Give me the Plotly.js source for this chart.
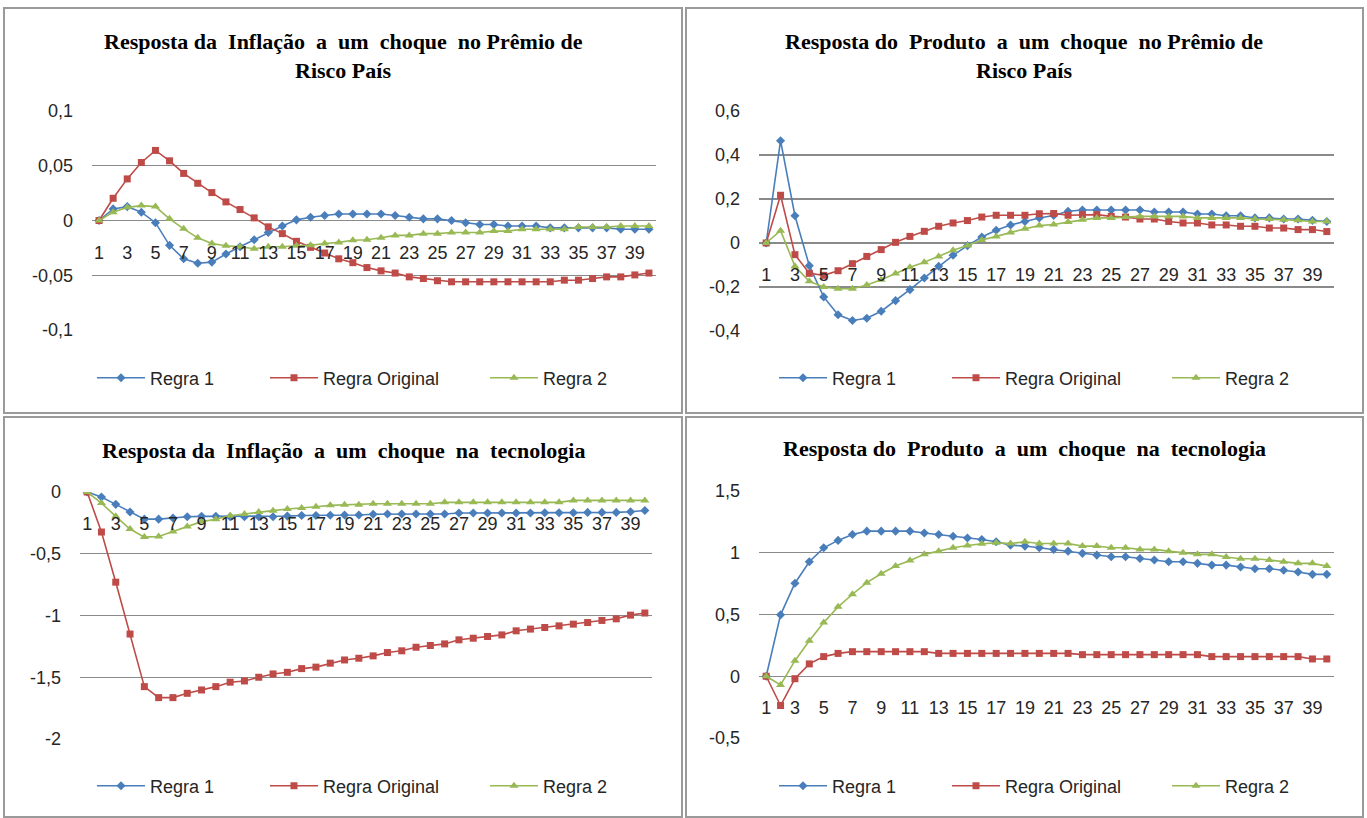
<!DOCTYPE html>
<html>
<head>
<meta charset="utf-8">
<script src="https://cdn.plot.ly/plotly-3.0.1.min.js"></script>
<style>html,body{margin:0;padding:0;background:#fff;overflow:hidden;}#chart{width:1367px;height:818px;}</style>
</head>
<body>
<div id="chart"></div>
<script>
// ---------- DATA ----------
const periods = [1,2,3,4,5,6,7,8,9,10,11,12,13,14,15,16,17,18,19,20,21,22,23,24,25,26,27,28,29,30,31,32,33,34,35,36,37,38,39,40];
const xTickVals = [1,3,5,7,9,11,13,15,17,19,21,23,25,27,29,31,33,35,37,39];
const xTickText = ["1","3","5","7","9","11","13","15","17","19","21","23","25","27","29","31","33","35","37","39"];
const seriesNames = ["Regra 1", "Regra Original", "Regra 2"];

const titles = [
  "Resposta da  Inflação  a  um  choque  no Prêmio de<br>Risco País",
  "Resposta do  Produto  a  um  choque  no Prêmio de<br>Risco País",
  "Resposta da  Inflação  a  um  choque  na  tecnologia",
  "Resposta do  Produto  a  um  choque  na  tecnologia"
];

// Panel 1: Inflação / choque prêmio de risco
const infRisk_regra1 = [0,0.0106,0.0127,0.0076,-0.002,-0.0227,-0.035,-0.039,-0.038,-0.0306,-0.024,-0.0176,-0.011,-0.005,0.0006,0.003,0.0045,0.006,0.006,0.006,0.006,0.0045,0.003,0.0015,0.0015,0,-0.002,-0.0036,-0.0036,-0.005,-0.005,-0.005,-0.0067,-0.0067,-0.0067,-0.0067,-0.0067,-0.008,-0.008,-0.008];
const infRisk_original = [0,0.0203,0.038,0.053,0.064,0.0545,0.043,0.034,0.0255,0.017,0.010,0.0024,-0.0058,-0.012,-0.019,-0.0245,-0.0297,-0.035,-0.0385,-0.043,-0.046,-0.048,-0.0515,-0.053,-0.055,-0.056,-0.056,-0.056,-0.056,-0.056,-0.056,-0.056,-0.056,-0.0545,-0.0545,-0.053,-0.0515,-0.0515,-0.0497,-0.048];
const infRisk_regra2 = [0,0.0076,0.012,0.0136,0.0127,0.0015,-0.0076,-0.0158,-0.021,-0.023,-0.024,-0.0258,-0.024,-0.024,-0.023,-0.0227,-0.021,-0.020,-0.018,-0.0176,-0.0158,-0.0136,-0.0136,-0.012,-0.012,-0.011,-0.011,-0.011,-0.0097,-0.0097,-0.008,-0.008,-0.008,-0.008,-0.006,-0.006,-0.006,-0.005,-0.005,-0.005];
const infRisk_yTicks = [-0.1,-0.05,0,0.05,0.1];
const infRisk_yText = ["-0,1","-0,05","0","0,05","0,1"];

// Panel 2: Produto / choque prêmio de risco
const prodRisk_regra1 = [0,0.465,0.124,-0.103,-0.245,-0.326,-0.352,-0.342,-0.31,-0.262,-0.212,-0.159,-0.106,-0.056,-0.012,0.027,0.058,0.082,0.098,0.114,0.125,0.144,0.15,0.15,0.15,0.15,0.15,0.141,0.141,0.141,0.132,0.132,0.124,0.124,0.114,0.114,0.109,0.109,0.103,0.098];
const prodRisk_original = [0,0.217,-0.053,-0.138,-0.147,-0.126,-0.094,-0.061,-0.03,0.003,0.03,0.053,0.076,0.091,0.102,0.118,0.126,0.126,0.126,0.133,0.134,0.126,0.129,0.129,0.121,0.118,0.109,0.109,0.098,0.091,0.091,0.082,0.082,0.076,0.076,0.068,0.068,0.061,0.061,0.052];
const prodRisk_regra2 = [0,0.056,-0.106,-0.174,-0.2,-0.208,-0.208,-0.191,-0.167,-0.139,-0.11,-0.088,-0.061,-0.033,-0.011,0.014,0.03,0.048,0.065,0.079,0.084,0.095,0.106,0.114,0.114,0.118,0.121,0.121,0.121,0.121,0.114,0.114,0.114,0.114,0.109,0.109,0.106,0.103,0.098,0.098];
const prodRisk_yTicks = [-0.4,-0.2,0,0.2,0.4,0.6];
const prodRisk_yText = ["-0,4","-0,2","0","0,2","0,4","0,6"];

// Panel 3: Inflação / choque tecnologia
const infTech_regra1 = [0,-0.04,-0.1,-0.162,-0.22,-0.22,-0.21,-0.2,-0.197,-0.197,-0.2,-0.2,-0.2,-0.2,-0.195,-0.19,-0.19,-0.188,-0.186,-0.186,-0.18,-0.178,-0.178,-0.178,-0.178,-0.178,-0.17,-0.17,-0.17,-0.17,-0.17,-0.17,-0.168,-0.168,-0.168,-0.165,-0.165,-0.165,-0.16,-0.15];
const infTech_original = [0,-0.324,-0.73,-1.15,-1.576,-1.665,-1.665,-1.63,-1.603,-1.576,-1.54,-1.53,-1.5,-1.473,-1.46,-1.43,-1.418,-1.386,-1.36,-1.346,-1.327,-1.3,-1.286,-1.257,-1.243,-1.23,-1.197,-1.184,-1.17,-1.157,-1.124,-1.11,-1.097,-1.084,-1.07,-1.057,-1.04,-1.027,-0.997,-0.98];
const infTech_regra2 = [0,-0.09,-0.197,-0.3,-0.365,-0.36,-0.32,-0.28,-0.24,-0.22,-0.192,-0.178,-0.162,-0.151,-0.138,-0.13,-0.12,-0.108,-0.103,-0.103,-0.095,-0.095,-0.095,-0.095,-0.095,-0.084,-0.084,-0.084,-0.084,-0.084,-0.084,-0.084,-0.084,-0.084,-0.068,-0.068,-0.068,-0.068,-0.068,-0.068];
const infTech_yTicks = [-2,-1.5,-1,-0.5,0];
const infTech_yText = ["-2","-1,5","-1","-0,5","0"];

// Panel 4: Produto / choque tecnologia
const prodTech_regra1 = [0,0.497,0.753,0.927,1.04,1.10,1.148,1.175,1.175,1.175,1.175,1.16,1.148,1.134,1.12,1.107,1.089,1.062,1.054,1.04,1.027,1.013,0.995,0.981,0.968,0.968,0.954,0.941,0.927,0.927,0.914,0.9,0.9,0.885,0.871,0.871,0.858,0.844,0.825,0.825];
const prodTech_original = [0,-0.237,-0.02,0.1,0.159,0.185,0.199,0.199,0.199,0.199,0.199,0.199,0.185,0.185,0.185,0.185,0.185,0.185,0.185,0.185,0.185,0.185,0.175,0.175,0.175,0.175,0.175,0.175,0.175,0.175,0.175,0.159,0.159,0.159,0.159,0.159,0.159,0.159,0.14,0.14];
const prodTech_regra2 = [0,-0.07,0.126,0.288,0.435,0.562,0.664,0.758,0.83,0.892,0.938,0.987,1.013,1.04,1.059,1.073,1.08,1.075,1.089,1.075,1.075,1.075,1.054,1.054,1.04,1.04,1.027,1.027,1.013,1.0,0.987,0.987,0.965,0.951,0.951,0.941,0.927,0.914,0.914,0.892];
const prodTech_yTicks = [-0.5,0,0.5,1,1.5];
const prodTech_yText = ["-0,5","0","0,5","1","1,5"];

// ---------- STYLE / LAYOUT ----------
const W = 1367, H = 818;
const colors = ["#4a7ebb", "#be4b48", "#98b954"];
const symbols = ["diamond", "square", "triangle-up"];
const msizes = [7, 7, 8];
const tickFont = {family: "Liberation Sans, Arial, sans-serif", size: 18, color: "#262626"};
const titleFont = {family: "Liberation Serif, Times New Roman, serif", size: 22, color: "#000"};
const gridColor = "#8a8a8a";

const px = v => v / W;
const py = v => 1 - v / H;

// plot boxes in pixels [x0, x1, yTop, yBottom]
const legendStarts = [97, 270, 490];
const panels = [
  {box:[92,656,111,330],   data:[infRisk_regra1, infRisk_original, infRisk_regra2],   yt:infRisk_yTicks,  ytx:infRisk_yText,  title:titles[0], tx:343,  ty:[42,70], legX:0,   legY:378},
  {box:[759,1334,111,331], data:[prodRisk_regra1, prodRisk_original, prodRisk_regra2], yt:prodRisk_yTicks, ytx:prodRisk_yText, title:titles[1], tx:1024, ty:[42,70], legX:682, legY:378},
  {box:[80,652,492,739],   data:[infTech_regra1, infTech_original, infTech_regra2],   yt:infTech_yTicks,  ytx:infTech_yText,  title:titles[2], tx:343,  ty:[450],   legX:0,   legY:786},
  {box:[759,1334,491,738], data:[prodTech_regra1, prodTech_original, prodTech_regra2], yt:prodTech_yTicks, ytx:prodTech_yText, title:titles[3], tx:1024, ty:[448],   legX:682, legY:786}
];

const traces = [];
const layout = {
  width: W, height: H,
  margin: {l:0, r:0, t:0, b:0, autoexpand:false},
  paper_bgcolor: "#fff", plot_bgcolor: "rgba(0,0,0,0)",
  showlegend: true,
  separators: ",.",
  annotations: [],
  shapes: []
};

panels.forEach((p, i) => {
  const n = i + 1;
  const xa = n === 1 ? "xaxis" : "xaxis" + n;
  const ya = n === 1 ? "yaxis" : "yaxis" + n;
  const xid = n === 1 ? "x" : "x" + n;
  const yid = n === 1 ? "y" : "y" + n;
  const ymin = p.yt[0], ymax = p.yt[p.yt.length - 1];
  const yd = [py(p.box[3]), py(p.box[2])];
  const zeroPos = yd[0] + (0 - ymin) / (ymax - ymin) * (yd[1] - yd[0]);

  layout[xa] = {
    domain: [px(p.box[0]), px(p.box[1])],
    range: [0.5, 40.5],
    anchor: "free", position: zeroPos,
    tickmode: "array", tickvals: xTickVals, ticktext: xTickText,
    showgrid: false, zeroline: false, showline: false, ticks: "",
    tickfont: tickFont, ticklabelstandoff: 19, fixedrange: true
  };
  layout[ya] = {
    domain: yd,
    range: [ymin, ymax],
    anchor: xid,
    tickmode: "array", tickvals: p.yt, ticktext: p.ytx,
    showgrid: true, gridcolor: gridColor, gridwidth: 1.3,
    zeroline: false, showline: false, ticks: "",
    tickfont: tickFont, ticklabelstandoff: 18, fixedrange: true
  };
  p.data.forEach((vals, k) => {
    const li = i * 3 + k + 1;
    const lg = li === 1 ? "legend" : "legend" + li;
    layout[lg] = {
      orientation: "h",
      x: px(p.legX + legendStarts[k] - 5), xanchor: "left",
      y: py(p.legY), yanchor: "middle",
      font: tickFont, bgcolor: "rgba(0,0,0,0)",
      itemwidth: 48
    };
    traces.push({
      type: "scatter", mode: "lines+markers",
      x: periods, y: vals, xaxis: xid, yaxis: yid,
      name: seriesNames[k], legend: lg,
      line: {color: colors[k], width: 1.6},
      marker: {symbol: symbols[k], size: msizes[k], color: colors[k]},
      hoverinfo: "skip"
    });
  });
  const lines = p.title.split("<br>");
  lines.forEach((t, li) => {
    layout.annotations.push({
      xref: "paper", yref: "paper", x: px(p.tx), y: py(p.ty[li]),
      xanchor: "center", yanchor: "middle", showarrow: false,
      text: "<b>" + t.replace(/  /g, "&nbsp; ") + "</b>", font: titleFont
    });
  });
});

// panel borders
const borders = [[4,682,8,413],[686,1363,8,413],[4,682,417,817],[686,1363,417,817]];
borders.forEach(b => {
  layout.shapes.push({type:"rect", xref:"paper", yref:"paper",
    x0:px(b[0]), x1:px(b[1]), y0:py(b[3]), y1:py(b[2]),
    line:{color:"#9a9a9a", width:2}, fillcolor:"rgba(0,0,0,0)", layer:"below"});
});

Plotly.newPlot("chart", traces, layout, {staticPlot: true, displayModeBar: false});
</script>
</body>
</html>
